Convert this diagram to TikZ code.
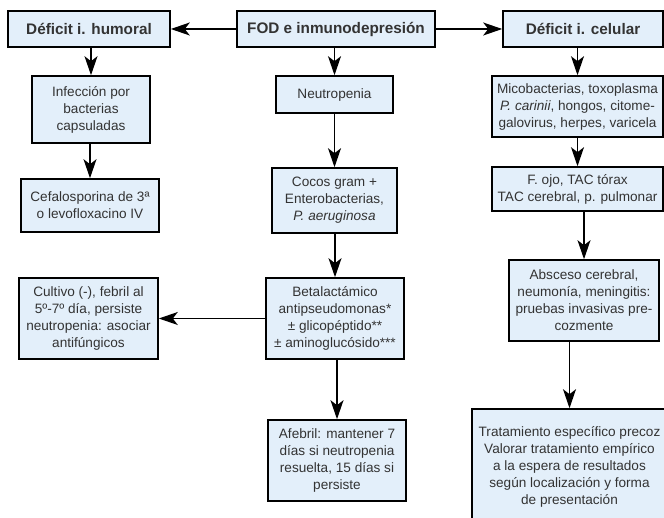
\documentclass[tikz,border=0pt]{standalone}
\usepackage{fontspec}
\setmainfont{Liberation Sans}
\usetikzlibrary{arrows.meta}
\definecolor{boxfill}{HTML}{E3EFFA}
\definecolor{txt}{HTML}{333333}
\begin{document}
\begin{tikzpicture}[x=1pt,y=-1pt,
  box/.style={draw=black, line width=1.6pt, fill=boxfill, text=txt,
    inner sep=0pt, align=center, font=\fontsize{13.6}{17}\selectfont},
  head/.style={box, font=\bfseries\fontsize{15.3}{18}\selectfont},
  conn/.style={line width=1.3pt, -{Stealth[length=19pt, width=13pt, inset=5pt]}}]
\clip (0,0) rectangle (664,518);
\fill[white] (0,0) rectangle (664,518);

% top row
\node[head, minimum width=162pt, minimum height=36pt] (hum) at (89,29) {Déficit i. humoral};
\node[head, minimum width=198pt, minimum height=36pt] (fod) at (336,29) {FOD e inmunodepresión};
\node[head, minimum width=160pt, minimum height=36pt] (cel) at (583,29) {Déficit i. celular};

% humoral branch
\node[box, minimum width=118pt, minimum height=67pt] (inf) at (91,109.5) {Infección por\\bacterias\\capsuladas};
\node[box, minimum width=138pt, minimum height=53pt] (cef) at (90,205.5) {Cefalosporina de 3ª\\o levofloxacino IV};

% neutropenia branch
\node[box, minimum width=117pt, minimum height=37pt] (neu) at (334.5,94.5) {Neutropenia};
\node[box, minimum width=125pt, minimum height=65pt] (coc) at (334.5,200.5) {Cocos gram +\\Enterobacterias,\\\textit{P. aeruginosa}};
\node[box, minimum width=138pt, minimum height=81pt] (bet) at (335,318.5) {Betalactámico\\antipseudomonas*\\± glicopéptido**\\± aminoglucósido***};
\node[box, minimum width=139pt, minimum height=81pt] (cul) at (88.5,318.5) {Cultivo (-), febril al\\5º-7º día, persiste\\neutropenia: asociar\\antifúngicos};
\node[box, minimum width=138pt, minimum height=81pt] (afe) at (337,460.5) {Afebril: mantener 7\\días si neutropenia\\resuelta, 15 días si\\persiste};

% cellular branch
\node[box, minimum width=171pt, minimum height=61pt] (mic) at (577.5,106.5) {Micobacterias, toxoplasma\\\textit{P. carinii}, hongos, citome-\\galovirus, herpes, varicela};
\node[box, minimum width=171pt, minimum height=44pt] (foj) at (577.5,189) {F. ojo, TAC tórax\\TAC cerebral, p. pulmonar};
\node[box, minimum width=150pt, minimum height=81pt] (abs) at (584,300.5) {Absceso cerebral,\\neumonía, meningitis:\\pruebas invasivas pre-\\cozmente};
\node[box, minimum width=195pt, minimum height=116pt] (tra) at (569.5,467) {Tratamiento específico precoz\\Valorar tratamiento empírico\\a la espera de resultados\\según localización y forma\\de presentación};

% connectors
\draw[conn] (fod.west) -- (hum.east);
\draw[conn] (fod.east) -- (cel.west);
\draw[conn] (hum.south -| inf.north) -- (inf.north);
\draw[conn] (inf.south -| cef.north) -- (cef.north);
\draw[conn] (fod.south -| neu.north) -- (neu.north);
\draw[conn] (neu.south) -- (coc.north);
\draw[conn] (coc.south -| bet.north) -- (bet.north);
\draw[conn] (bet.west) -- (cul.east);
\draw[conn] (bet.south -| afe.north) -- (afe.north);
\draw[conn] (cel.south -| mic.north) -- (mic.north);
\draw[conn] (mic.south) -- (foj.north);
\draw[conn] (foj.south -| abs.north) -- (abs.north);
\draw[conn] (abs.south -| tra.north) -- (tra.north);
\end{tikzpicture}
\end{document}
